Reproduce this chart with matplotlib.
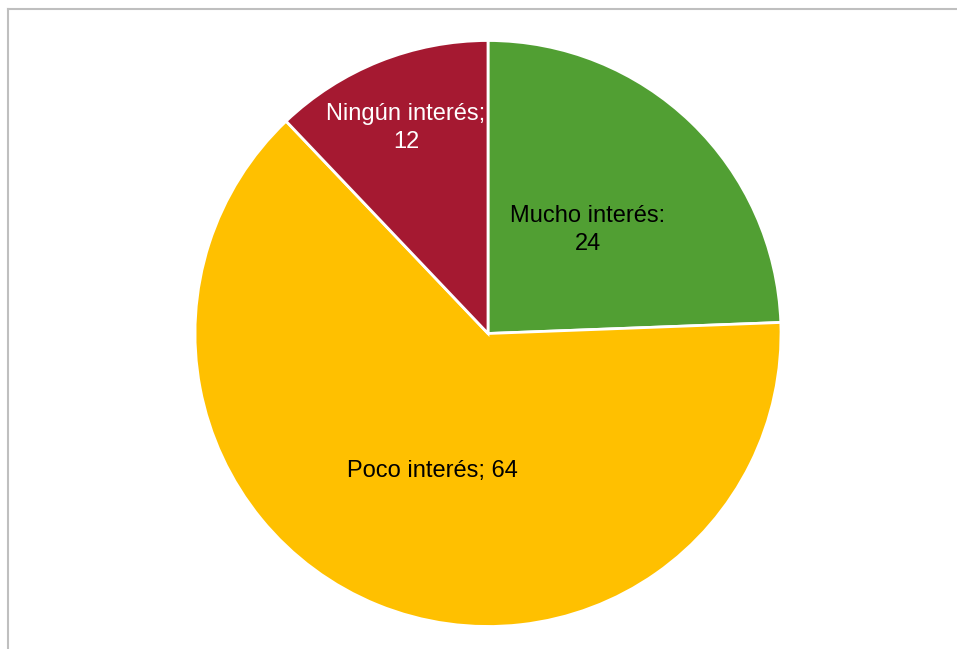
import matplotlib
matplotlib.use("Agg")
import matplotlib.pyplot as plt
import numpy as np
from matplotlib.lines import Line2D

categories = ["Mucho interés", "Poco interés", "Ningún interés"]
values = [24.4, 63.5, 12.1]
separators = [":", ";", ";"]
colors = ["#519F33", "#FFC000", "#A51931"]
text_colors = ["black", "black", "white"]
label_layout = ["{c}{s}\n{v}", "{c}{s} {v}", "{c}{s}\n{v}"]
label_dist = [0.49, 0.505, 0.755]

W, H = 957, 649
fig = plt.figure(figsize=(W / 100, H / 100), dpi=100)
fig.patch.set_facecolor("white")
ax = fig.add_axes([0, 0, 1, 1])

cx, cy, r = 488, H - 333.5, 293
wedges, _ = ax.pie(values, colors=colors, startangle=90, counterclock=False,
                   center=(cx, cy), radius=r, frame=True,
                   wedgeprops=dict(edgecolor="white", linewidth=2))
ax.set_xlim(0, W)
ax.set_ylim(0, H)
ax.set_aspect("equal")
ax.axis("off")

for w, c, s, v, tc, lay, d in zip(wedges, categories, separators, values,
                                  text_colors, label_layout, label_dist):
    ang = np.deg2rad((w.theta1 + w.theta2) / 2)
    x = cx + d * r * np.cos(ang)
    y = cy + d * r * np.sin(ang)
    ax.text(x, y, lay.format(c=c, s=s, v=int(round(v))), ha="center", va="center",
            color=tc, fontsize=17, family="Liberation Sans", linespacing=1.32)

fig.add_artist(Line2D([8 / W, 8 / W], [0, 1 - 9 / H], transform=fig.transFigure,
                      color="#BFBFBF", lw=1.5))
fig.add_artist(Line2D([8 / W, 1], [1 - 9 / H, 1 - 9 / H], transform=fig.transFigure,
                      color="#BFBFBF", lw=1.5))

fig.savefig("out.png", dpi=100, facecolor="white")
